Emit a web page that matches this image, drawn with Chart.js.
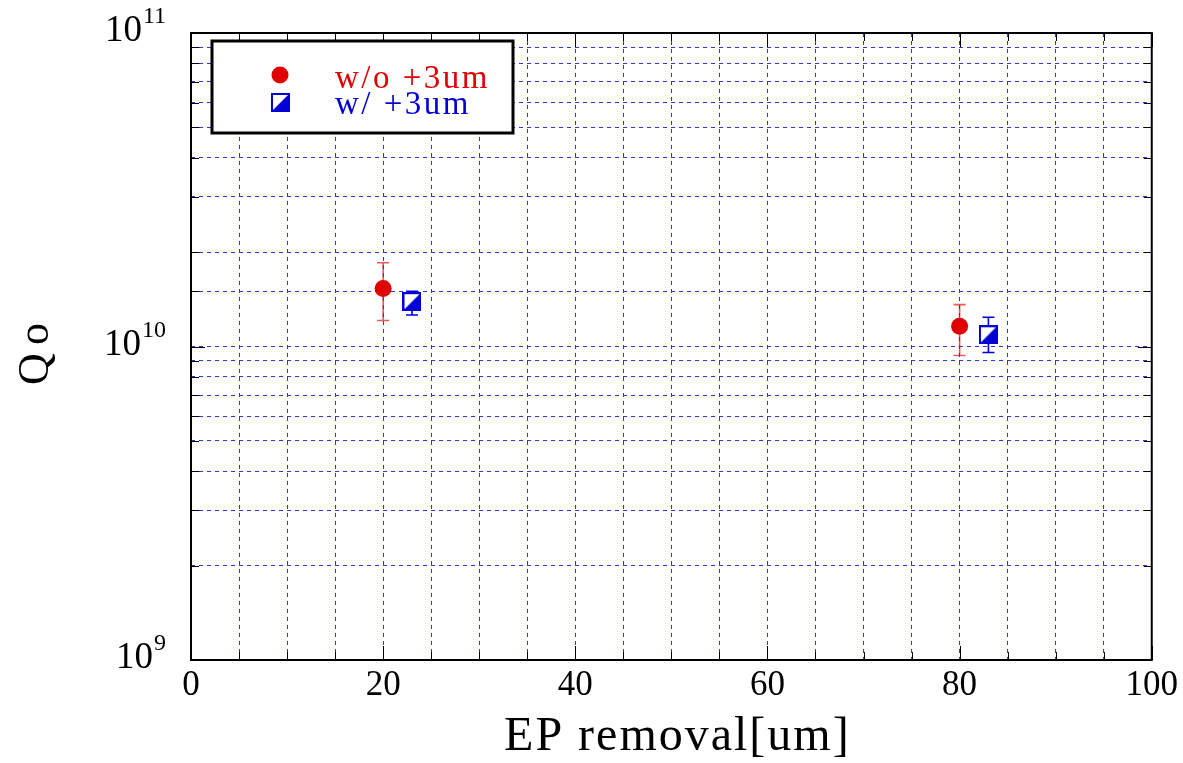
<!DOCTYPE html>
<html>
<head>
<meta charset="utf-8">
<script src="https://cdn.jsdelivr.net/npm/chart.js@4.4.1/dist/chart.umd.min.js"></script>
<style>
  body { margin: 0; background: #fff; }
  #wrap { width: 1183px; height: 763px; }
</style>
</head>
<body>
<div id="wrap"><canvas id="qo"></canvas></div>
<script>
// data
const redX = [20, 80];
const redQ = [1.53e10, 1.16e10];
const redHi = [1.85e10, 1.36e10];
const redLo = [1.21e10, 9.36e9];
const blueX = [23, 83];
const blueQ = [1.39e10, 1.09e10];
const blueHi = [1.50e10, 1.24e10];
const blueLo = [1.26e10, 9.57e9];
const yTickValues = [1e9, 1e10, 1e11];
const yTickExps = ['9', '10', '11'];
const seriesNames = ['w/o +3um', 'w/ +3um'];

const RED = 'rgb(224,0,0)';
const BLUE = 'rgb(0,0,215)';
const GRID = 'rgb(50,50,215)';
const SERIF = '"Liberation Serif", "DejaVu Serif", serif';

// half filled square marker
const sq = document.createElement('canvas');
sq.width = 19; sq.height = 19;
const sc = sq.getContext('2d');
sc.fillStyle = '#fff';
sc.fillRect(1, 1, 17, 17);
sc.fillStyle = BLUE;
sc.beginPath(); sc.moveTo(1, 18); sc.lineTo(18, 1); sc.lineTo(18, 18); sc.closePath(); sc.fill();
sc.strokeStyle = BLUE; sc.lineWidth = 2;
sc.strokeRect(1, 1, 17, 17);

const errorBars = {
  id: 'errorBars',
  beforeDatasetsDraw(chart) {
    const ctx = chart.ctx, xs = chart.scales.x, ys = chart.scales.y;
    const sets = [[redX, redHi, redLo, 'rgba(224,0,0,0.65)', 12], [blueX, blueHi, blueLo, BLUE, 12]];
    ctx.save();
    sets.forEach(([xv, hi, lo, col, cap]) => {
      ctx.strokeStyle = col; ctx.lineWidth = 1.6;
      xv.forEach((x, i) => {
        const px = xs.getPixelForValue(x);
        const t = ys.getPixelForValue(hi[i]), b = ys.getPixelForValue(lo[i]);
        ctx.beginPath();
        ctx.moveTo(px, t); ctx.lineTo(px, b);
        ctx.moveTo(px - cap / 2, t); ctx.lineTo(px + cap / 2, t);
        ctx.moveTo(px - cap / 2, b); ctx.lineTo(px + cap / 2, b);
        ctx.stroke();
      });
    });
    ctx.restore();
  }
};

const frame = {
  id: 'frame',
  afterDraw(chart) {
    const ctx = chart.ctx, a = chart.chartArea, xs = chart.scales.x, ys = chart.scales.y;
    ctx.save();
    // small black ticks on all four sides
    ctx.strokeStyle = '#000'; ctx.lineWidth = 1;
    ctx.beginPath();
    xs.ticks.forEach(t => {
      const px = Math.round(xs.getPixelForValue(t.value)) + 0.5;
      const len = t.value % 20 === 0 ? 14 : 8;
      ctx.moveTo(px, a.bottom); ctx.lineTo(px, a.bottom - len);
      ctx.moveTo(px, a.top); ctx.lineTo(px, a.top + len);
    });
    ys.ticks.forEach(t => {
      const py = Math.round(ys.getPixelForValue(t.value)) + 0.5;
      const len = yTickValues.includes(t.value) ? 14 : 8;
      ctx.moveTo(a.left, py); ctx.lineTo(a.left + len, py);
      ctx.moveTo(a.right, py); ctx.lineTo(a.right - len, py);
    });
    ctx.stroke();
    ctx.lineWidth = 2;
    ctx.strokeRect(a.left, a.top, a.right - a.left, a.bottom - a.top);

    // y tick labels with superscripts
    ctx.fillStyle = '#000';
    ctx.textBaseline = 'alphabetic';
    yTickValues.forEach((v, i) => {
      const py = ys.getPixelForValue(v);
      ctx.font = '24px ' + SERIF;
      const ew = ctx.measureText(yTickExps[i]).width;
      ctx.textAlign = 'left';
      const right = 166;
      ctx.fillText(yTickExps[i], right - ew, py - 10);
      ctx.font = '37px ' + SERIF;
      ctx.textAlign = 'right';
      ctx.fillText('10', right - ew - 1, py + 8);
    });

    // axis titles
    ctx.textAlign = 'center';
    ctx.textBaseline = 'middle';
    ctx.font = '48px ' + SERIF;
    ctx.letterSpacing = '2px';
    ctx.fillText('EP removal[um]', (a.left + a.right) / 2 + 6, 737);
    ctx.save();
    ctx.translate(36, 350);
    ctx.rotate(-Math.PI / 2);
    ctx.font = '44px ' + SERIF;
    ctx.letterSpacing = '8px';
    ctx.fillText('Qo', 0, 0);
    ctx.restore();

    // legend box
    const lx = a.left + 21, ly = a.top + 8;
    ctx.letterSpacing = '0px';
    ctx.fillStyle = '#fff';
    ctx.fillRect(lx, ly, 301, 92);
    ctx.lineWidth = 3; ctx.strokeStyle = '#000';
    ctx.strokeRect(lx, ly, 301, 92);
    const ds = chart.data.datasets;
    ctx.fillStyle = ds[0].backgroundColor;
    ctx.beginPath(); ctx.arc(lx + 68, ly + 34, 8.5, 0, Math.PI * 2); ctx.fill();
    ctx.drawImage(sq, lx + 59, ly + 52);
    ctx.font = '33px ' + SERIF;
    ctx.letterSpacing = '2.5px';
    ctx.textAlign = 'left';
    ctx.textBaseline = 'alphabetic';
    ctx.fillStyle = RED;
    ctx.fillText(seriesNames[0], lx + 123, ly + 47);
    ctx.fillStyle = BLUE;
    ctx.fillText(seriesNames[1], lx + 123, ly + 73);
    ctx.restore();
  }
};

new Chart(document.getElementById('qo').getContext('2d'), {
  type: 'scatter',
  data: {
    datasets: [
      {
        label: seriesNames[0],
        data: redX.map((x, i) => ({ x: x, y: redQ[i] })),
        backgroundColor: RED,
        borderColor: RED,
        pointRadius: 8.5,
        pointHoverRadius: 8.5,
        borderWidth: 0
      },
      {
        label: seriesNames[1],
        data: blueX.map((x, i) => ({ x: x, y: blueQ[i] })),
        backgroundColor: BLUE,
        borderColor: BLUE,
        pointStyle: sq,
        pointRadius: 9,
        borderWidth: 0
      }
    ]
  },
  options: {
    responsive: true,
    maintainAspectRatio: false,
    animation: false,
    layout: { padding: { top: 33, right: 31, left: 0, bottom: 0 } },
    plugins: { legend: { display: false }, tooltip: { enabled: false } },
    scales: {
      x: {
        type: 'linear',
        min: 0,
        max: 100,
        afterFit: s => { s.height = 103; },
        ticks: {
          stepSize: 5,
          autoSkip: false,
          maxRotation: 0,
          padding: 5,
          color: '#000',
          font: { family: SERIF, size: 35 },
          callback: v => (v % 20 === 0 ? v : '')
        },
        grid: { color: GRID, lineWidth: 1, drawTicks: false },
        border: { display: false, dash: [4, 4] }
      },
      y: {
        type: 'logarithmic',
        min: 1e9,
        max: 1e11,
        afterFit: s => { s.width = 191; },
        ticks: { display: false, autoSkip: false },
        grid: { color: GRID, lineWidth: 1, drawTicks: false },
        border: { display: false, dash: [4, 4] }
      }
    }
  },
  plugins: [errorBars, frame]
});
</script>
</body>
</html>
